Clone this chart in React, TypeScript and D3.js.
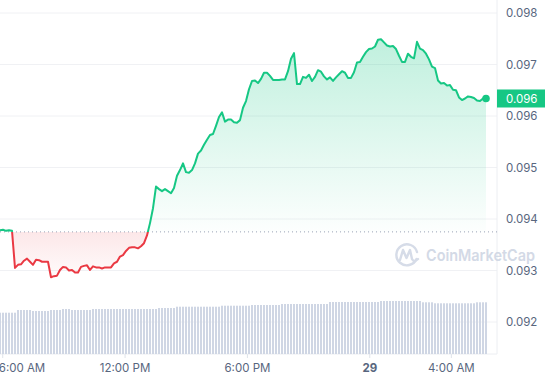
import React from "react";
import * as d3 from "d3";

const W = 545;
const H = 380;

// price series (USD), evenly spaced in time
const prices = [
  0.09378, 0.09379, 0.09377, 0.09378, 0.09377, 0.09305, 0.09311, 0.09312, 0.09319, 0.09323,
  0.09317, 0.09311, 0.09321, 0.0932, 0.09317, 0.09317, 0.09317, 0.09287, 0.09289, 0.0929,
  0.09301, 0.09307, 0.09306, 0.093, 0.09301, 0.09296, 0.09296, 0.09307, 0.09309, 0.0931,
  0.09301, 0.09308, 0.09306, 0.09306, 0.09304, 0.09306, 0.09306, 0.09306, 0.09314, 0.09317,
  0.09327, 0.0933, 0.09338, 0.09344, 0.09345, 0.09345, 0.09343, 0.09347, 0.09353, 0.09368,
  0.09392, 0.09421, 0.09463, 0.09458, 0.09454, 0.09458, 0.09454, 0.0945, 0.0946, 0.09484,
  0.09495, 0.09508, 0.09491, 0.0949, 0.09495, 0.09508, 0.09527, 0.09533, 0.09544, 0.09554,
  0.09563, 0.09565, 0.09581, 0.09598, 0.09607, 0.09589, 0.09593, 0.09593, 0.09588, 0.09587,
  0.09592, 0.09616, 0.09629, 0.09652, 0.09668, 0.09669, 0.09664, 0.09672, 0.09684, 0.09684,
  0.09678, 0.0967, 0.0967, 0.0967, 0.09671, 0.09671, 0.09687, 0.09711, 0.09722, 0.09662,
  0.09662, 0.09676, 0.09674, 0.0968, 0.09668, 0.09676, 0.09689, 0.09686, 0.09677, 0.09671,
  0.09675, 0.09668, 0.09675, 0.09681, 0.09687, 0.09684, 0.09674, 0.09674, 0.09685, 0.09704,
  0.09705, 0.09715, 0.09724, 0.0973, 0.09731, 0.09735, 0.09748, 0.09749, 0.09743, 0.09737,
  0.09735, 0.09736, 0.0973, 0.09717, 0.09705, 0.09705, 0.09721, 0.09715, 0.09712, 0.09744,
  0.09731, 0.09728, 0.09721, 0.0971, 0.09696, 0.09693, 0.09669, 0.09663, 0.09664, 0.09659,
  0.0966, 0.09651, 0.0965, 0.09636, 0.09631, 0.09634, 0.09638, 0.09637, 0.09635, 0.0963,
  0.09629, 0.09634, 0.09634,
];

// 24h volume (millions USD) per sample
const volumes = [
  413, 413, 413, 413, 413, 413, 440, 440, 440, 440,
  440, 430, 430, 430, 430, 430, 430, 440, 440, 440,
  440, 450, 450, 450, 440, 440, 440, 440, 440, 440,
  440, 450, 450, 450, 450, 450, 450, 450, 450, 450,
  450, 450, 450, 450, 450, 450, 450, 450, 450, 450,
  450, 450, 450, 460, 460, 460, 460, 460, 460, 473,
  473, 473, 473, 473, 473, 473, 473, 473, 473, 473,
  473, 473, 473, 473, 483, 483, 483, 483, 483, 483,
  483, 483, 483, 483, 490, 490, 490, 490, 490, 490,
  490, 490, 490, 490, 500, 500, 500, 500, 500, 500,
  500, 500, 500, 500, 500, 500, 500, 500, 500, 500,
  520, 520, 520, 520, 520, 520, 520, 520, 520, 520,
  520, 520, 520, 520, 520, 520, 520, 530, 530, 530,
  530, 530, 530, 530, 530, 530, 530, 530, 530, 530,
  530, 517, 517, 517, 517, 507, 507, 507, 507, 507,
  507, 507, 507, 507, 507, 507, 507, 507, 507, 517,
  517, 517, 517,
];

const refPrice = 0.09375;
const yTicks = [0.092, 0.093, 0.094, 0.095, 0.096, 0.097, 0.098];
const yTickLabels = ["0.092", "0.093", "0.094", "0.095", "0.096", "0.097", "0.098"];
const xTickTimes = [
  new Date(2023, 5, 28, 6, 0),
  new Date(2023, 5, 28, 12, 0),
  new Date(2023, 5, 28, 18, 0),
  new Date(2023, 5, 29, 0, 0),
  new Date(2023, 5, 29, 4, 0),
];
const xTickLabels = ["6:00 AM", "12:00 PM", "6:00 PM", "29", "4:00 AM"];
const xTickBold = [false, false, false, true, false];
const lastPriceLabel = "0.096";
const startTime = new Date(2023, 5, 28, 5, 52).getTime();
const endTime = new Date(2023, 5, 29, 5, 42).getTime();

const GREEN = "#16c784";
const RED = "#ea3943";
const FONT = "Inter, 'Noto Sans', sans-serif";

export default function App() {
  const times = prices.map(
    (_, i) => new Date(startTime + ((endTime - startTime) * i) / (prices.length - 1))
  );
  const data = prices.map((p, i) => ({ t: times[i], p, v: volumes[i] }));

  const plotRight = 497;
  const plotBottom = 354;

  const x = d3.scaleTime().domain([times[0], times[times.length - 1]]).range([0, 486]);
  const y = d3.scaleLinear().domain([0.092, 0.098]).range([322, 13]);
  const yVol = d3.scaleLinear().domain([0, 530]).range([plotBottom, 301]);

  const yRef = y(refPrice);
  const line = d3
    .line<(typeof data)[0]>()
    .x((d) => x(d.t))
    .y((d) => y(d.p));
  const area = d3
    .area<(typeof data)[0]>()
    .x((d) => x(d.t))
    .y0(yRef)
    .y1((d) => y(d.p));

  const lineD = line(data) || "";
  const areaD = area(data) || "";
  const last = data[data.length - 1];
  const yMin = d3.min(data, (d) => y(d.p)) as number;
  const yMax = d3.max(data, (d) => y(d.p)) as number;

  return (
    <svg
      width={W}
      height={H}
      style={{ position: "absolute", left: 0, top: 0, background: "#fff" }}
      fontFamily={FONT}
    >
      <defs>
        <clipPath id="above">
          <rect x={0} y={0} width={plotRight} height={yRef} />
        </clipPath>
        <clipPath id="below">
          <rect x={0} y={yRef} width={plotRight} height={H - yRef} />
        </clipPath>
        <linearGradient id="gGreen" gradientUnits="userSpaceOnUse" x1={0} x2={0} y1={yMin} y2={yRef}>
          <stop offset="0" stopColor={GREEN} stopOpacity={0.27} />
          <stop offset="1" stopColor={GREEN} stopOpacity={0.01} />
        </linearGradient>
        <linearGradient id="gRed" gradientUnits="userSpaceOnUse" x1={0} x2={0} y1={yRef} y2={yMax}>
          <stop offset="0" stopColor={RED} stopOpacity={0.12} />
          <stop offset="1" stopColor={RED} stopOpacity={0.02} />
        </linearGradient>
      </defs>

      {/* grid */}
      {yTicks.map((t) => (
        <line key={t} x1={0} x2={plotRight} y1={y(t)} y2={y(t)} stroke="#f0f1f4" strokeWidth={1} />
      ))}
      <line x1={plotRight} x2={plotRight} y1={0} y2={plotBottom} stroke="#eceef2" strokeWidth={1} />
      <line x1={0} x2={plotRight} y1={plotBottom} y2={plotBottom} stroke="#eceef2" strokeWidth={1} />

      {/* volume bars */}
      {data.map((d, i) => (
        <rect
          key={i}
          x={x(d.t) - 1}
          y={yVol(d.v)}
          width={2}
          height={plotBottom - yVol(d.v)}
          fill="#cfd6e4"
        />
      ))}

      {/* watermark */}
      <g opacity={0.85} fill="none" stroke="#cfd6e4" strokeWidth={2.4} strokeLinecap="round" strokeLinejoin="round">
        <path d="M 416.5 259 A 10.5 10.5 0 1 1 417 252" />
        <path d="M 400 260 L 403 250 L 406.5 258 L 410 250 L 412 259 Q 414 263 418 259" />
      </g>
      <text
        x={426}
        y={261}
        fontSize={16}
        fontWeight={600}
        fill="#cfd6e4"
        opacity={0.9}
        textLength={109}
        lengthAdjust="spacingAndGlyphs"
      >
        CoinMarketCap
      </text>

      {/* areas */}
      <path d={areaD} fill="url(#gGreen)" clipPath="url(#above)" />
      <path d={areaD} fill="url(#gRed)" clipPath="url(#below)" />

      {/* reference line */}
      <line
        x1={0}
        x2={plotRight}
        y1={yRef}
        y2={yRef}
        stroke="#9aa2b5"
        strokeWidth={1}
        strokeDasharray="1 3"
      />

      {/* price line */}
      <path d={lineD} fill="none" stroke={GREEN} strokeWidth={2} strokeLinejoin="round" clipPath="url(#above)" />
      <path d={lineD} fill="none" stroke={RED} strokeWidth={2} strokeLinejoin="round" clipPath="url(#below)" />
      <circle cx={x(last.t)} cy={y(last.p)} r={3.8} fill={GREEN} />

      {/* y axis labels */}
      {yTicks.map((t, i) => (
        <text key={t} x={506} y={y(t)} dy="0.35em" fontSize={11.5} fill="#58667e">
          {yTickLabels[i]}
        </text>
      ))}

      {/* last price tag */}
      <rect x={plotRight} y={y(last.p) - 9} width={W - plotRight} height={18} fill={GREEN} />
      <text x={506} y={y(last.p)} dy="0.35em" fontSize={11.5} fill="#fff">
        {lastPriceLabel}
      </text>

      {/* x axis */}
      {xTickTimes.map((t, i) => {
        const xp = x(t);
        return (
          <g key={i}>
            <line x1={xp} x2={xp} y1={plotBottom} y2={plotBottom + 4} stroke="#dfe3ea" />
            <text
              x={Math.max(xp, 22)}
              y={372}
              textAnchor="middle"
              fontSize={11.5}
              fontWeight={xTickBold[i] ? 700 : 400}
              fill={xTickBold[i] ? "#58667e" : "#58667e"}
            >
              {xTickLabels[i]}
            </text>
          </g>
        );
      })}
    </svg>
  );
}
